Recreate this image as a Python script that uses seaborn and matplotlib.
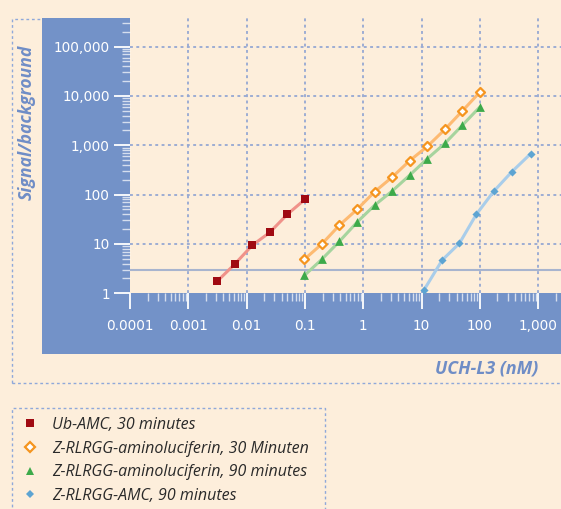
import numpy as np
import pandas as pd
import matplotlib
matplotlib.use("Agg")
import matplotlib.pyplot as plt
import seaborn as sns
from matplotlib.patches import Rectangle
from matplotlib.lines import Line2D
from matplotlib.ticker import LogLocator, NullFormatter

# ---- data -------------------------------------------------------------
ub_amc_conc = [0.003125, 0.00625, 0.0125, 0.025, 0.05, 0.1]
ub_amc_sb = [1.75, 3.9, 9.4, 17.2, 40, 80]

luc_conc = [0.098, 0.195, 0.39, 0.78, 1.5625, 3.125, 6.25, 12.5, 25, 50, 100]
luc30_sb = [4.9, 10, 24, 50, 114, 226, 488, 946, 2090, 4970, 12000]
luc90_sb = [2.3, 4.9, 11.3, 27.5, 61, 118, 248, 533, 1090, 2550, 6000]

amc_conc = [11, 22.5, 44.5, 87, 174, 352, 746]
amc_sb = [1.17, 4.7, 10.3, 40, 118, 290, 680]

threshold = 3

series_labels = [
    "Ub-AMC, 30 minutes",
    "Z-RLRGG-aminoluciferin, 30 Minuten",
    "Z-RLRGG-aminoluciferin, 90 minutes",
    "Z-RLRGG-AMC, 90 minutes",
]

x_ticks = [1e-4, 1e-3, 1e-2, 1e-1, 1, 10, 100, 1000]
x_tick_labels = ["0.0001", "0.001", "0.01", "0.1", "1", "10", "100", "1,000"]
y_ticks = [1, 10, 100, 1000, 10000, 100000]
y_tick_labels = ["1", "10", "100", "1,000", "10,000", "100,000"]

x_label = "UCH-L3 (nM)"
y_label = "Signal/background"

# ---- styling ----------------------------------------------------------
cream = "#FDEEDB"
panel_blue = "#7392C8"
grid_blue = "#95A8D3"
frame_blue = "#8FA8DA"
title_blue = "#6F8DC6"

sns.set_style("white")
plt.rcParams["font.family"] = ["Open Sans", "DejaVu Sans"]

styles = [
    dict(marker="s", s=27, color="#A00A12", edgecolor="#A00A12", linewidth=0, line="#F0928A"),
    dict(marker="D", s=21, color="white", edgecolor="#F5951F", linewidth=1.6, line="#FDBA72"),
    dict(marker="^", s=40, color="#3DAA4A", edgecolor="#3DAA4A", linewidth=0, line="#A6D49E"),
    dict(marker="D", s=17, color="#5DA4D2", edgecolor="#5DA4D2", linewidth=0, line="#A9CDEA"),
]
series = [
    (ub_amc_conc, ub_amc_sb),
    (luc_conc, luc30_sb),
    (luc_conc, luc90_sb),
    (amc_conc, amc_sb),
]

W, H = 561, 509
fig = plt.figure(figsize=(W / 100, H / 100), dpi=100)
fig.patch.set_facecolor(cream)


def fx(px):
    return px / W


def fy(py):
    return 1 - py / H


# dotted outer frames (chart block and legend block)
fig.add_artist(Rectangle((fx(12), fy(383)), fx(600), fy(18.5) - fy(383), fill=False,
                         edgecolor=frame_blue, lw=1.0, linestyle=(0, (2, 2)),
                         transform=fig.transFigure, zorder=-3))
fig.add_artist(Rectangle((fx(12), fy(530)), fx(325) - fx(12), fy(408) - fy(530), fill=False,
                         edgecolor=frame_blue, lw=1.0, linestyle=(0, (2, 2)),
                         transform=fig.transFigure, zorder=-3))
# blue panel behind the axes
fig.add_artist(Rectangle((fx(42), fy(354)), fx(W) - fx(42), fy(18) - fy(354),
                         facecolor=panel_blue, edgecolor="none",
                         transform=fig.transFigure, zorder=-2))

ax = fig.add_axes([fx(130), fy(293.3), fx(W) - fx(130), fy(18) - fy(293.3)])
ax.set_facecolor(cream)
ax.set_xscale("log")
ax.set_yscale("log")
ax.set_xlim(1e-4, 10 ** 3.39)
ax.set_ylim(1, 10 ** 5.58)
for sp in ax.spines.values():
    sp.set_visible(False)

# dashed grid at the inner decades
for v in x_ticks[1:]:
    ax.axvline(v, color=grid_blue, lw=1.3, linestyle=(0, (1.6, 1.9)), zorder=1)
for v in y_ticks[1:]:
    ax.axhline(v, color=grid_blue, lw=1.3, linestyle=(0, (1.6, 1.9)), zorder=1)

ax.axhline(threshold, color="#A8B4CE", lw=1.5, zorder=1.5)

for (conc, sb), st in zip(series, styles):
    sns.lineplot(x=conc, y=sb, ax=ax, color=st["line"], linewidth=2.2, zorder=3)
    sns.scatterplot(x=conc, y=sb, ax=ax, marker=st["marker"], s=st["s"],
                    color=st["color"], edgecolor=st["edgecolor"],
                    linewidth=st["linewidth"], zorder=4, legend=False)

ax.set_xticks(x_ticks)
ax.set_xticklabels(x_tick_labels)
ax.set_yticks(y_ticks)
ax.set_yticklabels(y_tick_labels)
ax.xaxis.set_minor_locator(LogLocator(base=10, subs=np.arange(2, 10), numticks=20))
ax.yaxis.set_minor_locator(LogLocator(base=10, subs=np.arange(2, 10), numticks=20))
ax.xaxis.set_minor_formatter(NullFormatter())
ax.yaxis.set_minor_formatter(NullFormatter())
ax.tick_params(which="both", bottom=True, left=True, top=False, right=False)
ax.tick_params(which="major", direction="out", length=11.5, width=1.3,
               color="white", labelcolor="white", labelsize=9.8)
ax.tick_params(which="minor", direction="out", length=5.5, width=1.0,
               color=(1, 1, 1, 0.7))
ax.tick_params(axis="x", which="major", pad=7)
ax.tick_params(axis="y", which="major", pad=3)
for lab in ax.get_xticklabels() + ax.get_yticklabels():
    lab.set_family("DejaVu Sans")
ax.set_xlabel("")
ax.set_ylabel("")

fig.text(fx(27), fy(122), y_label, rotation=90, ha="center", va="center",
         color=title_blue, fontsize=12.6, fontweight="bold", fontstyle="italic")
fig.text(fx(538), fy(369), x_label, ha="right", va="center",
         color=title_blue, fontsize=12.8, fontweight="bold", fontstyle="italic")

handles = []
for st in styles:
    handles.append(Line2D([], [], linestyle="none", marker=st["marker"],
                          markersize=np.sqrt(st["s"]),
                          markerfacecolor=st["color"], markeredgecolor=st["edgecolor"],
                          markeredgewidth=st["linewidth"]))
ax.legend(handles, series_labels, loc="upper left",
          bbox_to_anchor=(fx(22), fy(417)), bbox_transform=fig.transFigure,
          frameon=False, borderpad=0, borderaxespad=0, handlelength=1.0,
          handletextpad=0.9, labelspacing=0.48,
          prop=dict(family="Open Sans", style="italic", size=11.5),
          labelcolor="#2A2A2A")

fig.savefig("out.png", dpi=100, facecolor=cream)
